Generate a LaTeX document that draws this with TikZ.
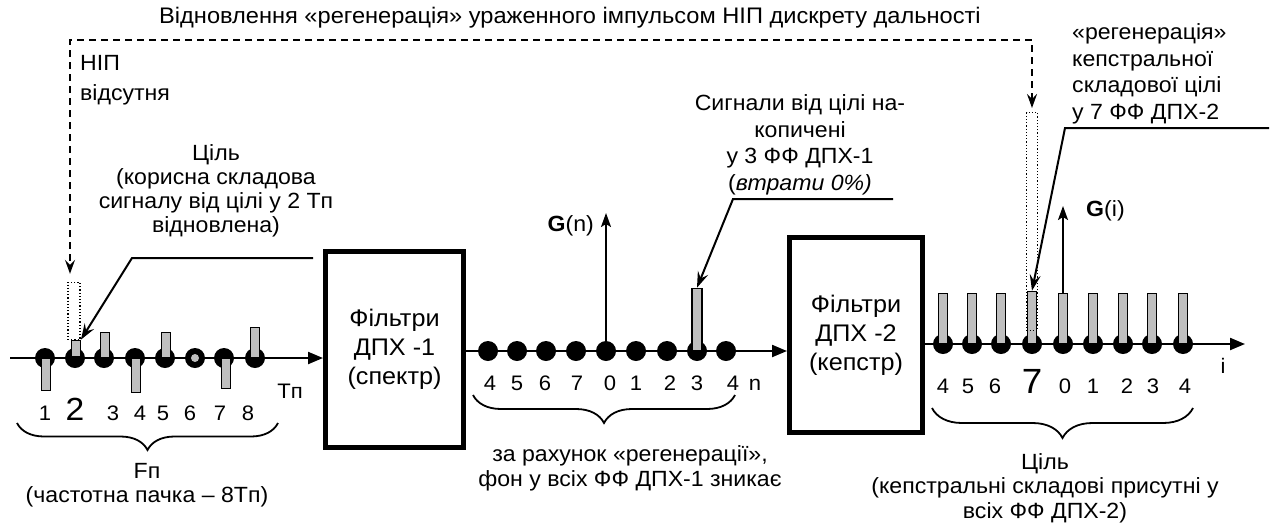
\documentclass[tikz,border=0pt]{standalone}
\usepackage{fontspec}
\setmainfont[FakeStretch=1.05]{Liberation Sans}
\usetikzlibrary{arrows.meta,decorations.pathreplacing}
\begin{document}
\begin{tikzpicture}[x=1pt,y=-1pt,
  txt/.style={font=\fontsize{22}{25}\selectfont,inner sep=0pt,align=center},
  num/.style={font=\fontsize{21}{25}\selectfont,inner sep=0pt,anchor=base},
  axisline/.style={line width=2.2pt,-{Triangle[length=15pt,width=12pt]}},
  dotb/.style={circle,fill=black,minimum size=20pt,inner sep=0pt},
  barg/.style={draw=black,fill=black!25,line width=1.3pt,minimum width=8.5pt,inner sep=0pt},
  fbox/.style={draw,line width=5pt,align=center,inner sep=0pt,font=\fontsize{24}{29}\selectfont},
  lead/.style={line width=2pt,-{Stealth[length=16pt,width=11pt,inset=6pt]}},
  garrow/.style={line width=2pt,-{Stealth[length=14pt,width=10pt,inset=3pt]}},
  dsh/.style={line width=1.6pt,dash pattern=on 7pt off 5pt,{Stealth[length=14pt,width=10pt,inset=5pt]}-{Stealth[length=14pt,width=10pt,inset=5pt]}},
  nip/.style={draw,line width=1.2pt,dotted,inner sep=0pt},
  brc/.style={decorate,decoration={brace,mirror,amplitude=#1},line width=1.8pt},
]
\useasboundingbox (0,0) rectangle (1271,528);

% ---------- boxes
\node[fbox,minimum width=138pt,minimum height=196pt] (box1) at (394.5,349.5) {Фільтри\\ДПХ -1\\(спектр)};
\node[fbox,minimum width=133pt,minimum height=195pt] (box2) at (856,335) {Фільтри\\ДПХ -2\\(кепстр)};

% ---------- axes
\coordinate (a1s) at (10,358);
\coordinate (y2) at (0,351);
\coordinate (y3) at (0,344);
\coordinate (a3e) at (1245,344);
\draw[axisline] (a1s) -- (a1s -| box1.west);
\draw[axisline] (box1.east |- y2) -- (box2.west |- y2);
\draw[axisline] (box2.east |- y3) -- (a3e);

% ---------- axis 1 dots and bars
\foreach \x [count=\i] in {45,75,104,135,165,195,224,255}
  \node[dotb] (p\i) at (\x,358) {};
\node[circle,fill=black!25,minimum size=8pt,inner sep=0pt] (p6c) at (p6) {};
\node[barg,minimum height=32pt,anchor=north] (q1) at (46,358) {};
\node[barg,minimum height=16pt,anchor=south] (q2) at (76,357) {};
\node[barg,minimum height=25pt,anchor=south] (q3) at (105,358) {};
\node[barg,minimum height=34pt,anchor=north] (q4) at (136,358) {};
\node[barg,minimum height=25pt,anchor=south] (q5) at (166,358) {};
\node[barg,minimum height=30pt,anchor=north] (q7) at (226,358) {};
\node[barg,minimum height=30pt,anchor=south] (q8) at (255,358) {};

% ---------- axis 2 dots and bar
\foreach \x [count=\i] in {488,517,546,576,606,636,667,697,726}
  \node[dotb] (n\i) at (\x,351) {};
\draw[garrow] (n5.center) -- (606,213) coordinate (gnTop);
\node[barg,minimum width=10pt,minimum height=62pt,anchor=south] (s8) at (n8.center) {};

% ---------- axis 3 dots and bars
\foreach \x [count=\i] in {943,972,1001,1032,1063,1093,1123,1152,1183}
  \node[dotb] (m\i) at (\x,344) {};
\foreach \i in {1,2,3,5,6,7,8,9}
  \node[barg,minimum width=9pt,minimum height=50pt,anchor=south] (r\i) at (m\i.center) {};
\node[barg,minimum width=9pt,minimum height=52pt,anchor=south] (r4) at (m4.center) {};
\draw[garrow] (r5.north) -- (1063,206) coordinate (giTop);

% ---------- dotted NIP rectangles and dashed feedback
\node[nip,minimum width=12pt,minimum height=57pt,anchor=south] (nipL) at (74,340) {};
\node[nip,minimum width=11pt,minimum height=218pt,anchor=north] (nipR) at (1032,112) {};
\coordinate (tl) at (70,40);
\coordinate (tr) at (1032,40);
\draw[dsh,shorten <=4pt,shorten >=8pt] (nipR.north) -- (tr) -- (tl) -- (tl |- nipL.north);

% ---------- leaders
\coordinate (L1a) at (313,258); \coordinate (L1b) at (132,258);
\draw[lead] (L1a) -- (L1b) -- (q2.north east);
\coordinate (L2a) at (893,199); \coordinate (L2b) at (733,199);
\draw[lead] (L2a) -- (L2b) -- (s8.north);
\coordinate (L3a) at (1269,128); \coordinate (L3b) at (1065,128);
\draw[lead] (L3a) -- (L3b) -- (r4.north);

% ---------- numbers
\foreach \x/\t [count=\i] in {45/1,113/3,140/4,163/5,190/6,220/7,248/8}
  \node[num] (ta\i) at (\x,420) {\t};
\node[num,font=\fontsize{32}{34}\selectfont] (ta2big) at (75,420) {2};
\node[num] (tp) at (290,398) {Tп};
\foreach \x/\t [count=\i] in {490/4,517/5,545/6,577/7,610/0,636/1,670/2,697/3,733/4}
  \node[num] (tb\i) at (\x,390) {\t};
\node[num] (tn) at (755,390) {n};
\foreach \x/\t [count=\i] in {943/4,968/5,995/6,1065/0,1093/1,1127/2,1153/3,1185/4}
  \node[num] (tc\i) at (\x,393) {\t};
\node[num,font=\fontsize{35}{37}\selectfont] (tc7big) at (1032,393) {7};
\node[num] (ti) at (1223,373) {i};

% ---------- braces
\draw[brc=27] (17,423) -- (278,423);
\draw[brc=28] (473,395) -- (735,395);
\draw[brc=30] (932,408) -- (1193,408);

% ---------- texts
\node[txt,font=\fontsize{22.5}{25}\selectfont] (ttop) at (570,18) {Відновлення «регенерація» ураженного імпульсом НІП дискрету дальності};
\node[txt,align=left,anchor=west,font=\fontsize{22}{30}\selectfont] (nipt) at (80,80) {НІП\\відсутня};
\node[txt,font=\fontsize{22}{24}\selectfont] (tsil1) at (216,191) {Ціль\\(корисна складова\\сигналу від цілі у 2 Tп\\відновлена)};
\node[txt,font=\fontsize{22}{26.5}\selectfont] (tsig) at (800,145) {Сигнали від цілі на-\\копичені\\у 3 ФФ ДПХ-1\\(\textit{втрати 0\%)}};
\node[txt,align=left,anchor=west,font=\fontsize{22}{26.5}\selectfont] (treg) at (1072,74) {«регенерація»\\кепстральної\\складової цілі\\у 7 ФФ ДПХ-2};
\node[txt,anchor=east] (gn) at (594,226) {\textbf{G}(n)};
\node[txt,anchor=west] (gi) at (1086,211) {\textbf{G}(i)};
\node[txt,font=\fontsize{22}{24}\selectfont] (tfp) at (147,485) {Fп\\(частотна пачка – 8Tп)};
\node[txt,font=\fontsize{22}{25}\selectfont] (tza) at (630,468) {за рахунок «регенерації»,\\фон у всіх ФФ ДПХ-1 зникає};
\node[txt,font=\fontsize{22}{24.5}\selectfont] (tsil2) at (1045,488) {Ціль\\(кепстральні складові присутні у\\всіх ФФ ДПХ-2)};
\end{tikzpicture}
\end{document}
